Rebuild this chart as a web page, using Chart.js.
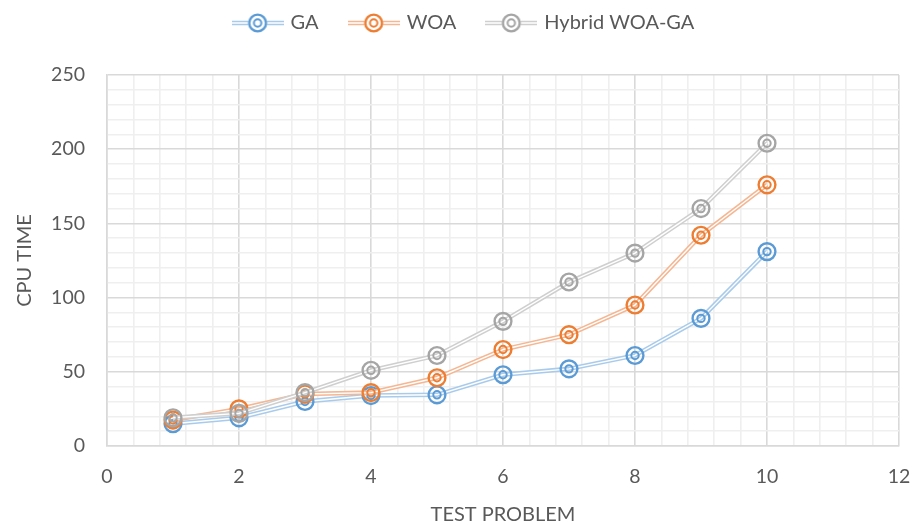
<!DOCTYPE html>
<html>
<head>
<meta charset="utf-8">
<script src="https://cdn.jsdelivr.net/npm/chart.js@4.4.1/dist/chart.umd.min.js"></script>
<style>
  html, body { margin: 0; padding: 0; background: #ffffff; }
  #wrap { width: 913px; height: 527px; position: relative; }
</style>
</head>
<body>
<div id="wrap"><canvas id="c" width="913" height="527"></canvas></div>
<script>
// ---- data ----
const testProblems = [1, 2, 3, 4, 5, 6, 7, 8, 9, 10];
const gaTime      = [15, 19, 30, 34, 34.5, 48, 52, 61, 86, 131];
const woaTime     = [17.5, 25, 35, 36, 46, 65, 75, 95, 142, 176];
const hybridTime  = [19, 22, 36, 51, 61, 84, 110.5, 130, 160, 204];
const seriesNames = ['GA', 'WOA', 'Hybrid WOA-GA'];
const xMajorTicks = [0, 2, 4, 6, 8, 10, 12];
const yMajorTicks = [0, 50, 100, 150, 200, 250];

const markerColors = ['#5B9BD5', '#ED7D31', '#A5A5A5'];
const lineColors   = ['#A9CBEB', '#F5B692', '#CFCFCF'];
const FONT = 'Lato, "Open Sans", "Liberation Sans", sans-serif';
const TXT = '#595959';

const LAYOUT_TOP = -19;
const PLOT_TOP = 75;

function pts(vals) { return testProblems.map((x, i) => ({ x: x, y: vals[i] })); }

function drawMarker(ctx, x, y, color) {
  ctx.save();
  ctx.strokeStyle = color;
  ctx.lineWidth = 2.4;
  ctx.beginPath(); ctx.arc(x, y, 8.4, 0, Math.PI * 2); ctx.stroke();
  ctx.lineWidth = 2;
  ctx.beginPath(); ctx.arc(x, y, 3.7, 0, Math.PI * 2); ctx.stroke();
  ctx.restore();
}

function legendImage(i) {
  const cv = document.createElement('canvas');
  cv.width = 52; cv.height = 22;
  const c = cv.getContext('2d');
  c.strokeStyle = lineColors[i]; c.lineWidth = 4.5;
  c.beginPath(); c.moveTo(0, 11); c.lineTo(52, 11); c.stroke();
  c.strokeStyle = '#ffffff'; c.lineWidth = 1.4;
  c.beginPath(); c.moveTo(0, 11); c.lineTo(52, 11); c.stroke();
  c.fillStyle = '#ffffff';
  c.beginPath(); c.arc(26, 11, 9.5, 0, Math.PI * 2); c.fill();
  drawMarker(c, 26, 11, markerColors[i]);
  return cv;
}

const doubleLinePlugin = {
  id: 'doubleLine',
  afterDatasetDraw(chart, args) {
    const ctx = chart.ctx;
    const meta = args.meta;
    const i = args.index;
    const area = chart.chartArea;
    ctx.save();
    ctx.beginPath();
    ctx.rect(area.left, area.top, area.right - area.left, area.bottom - area.top);
    ctx.clip();
    ctx.strokeStyle = '#ffffff';
    ctx.lineWidth = 1.4;
    ctx.lineJoin = 'round';
    ctx.beginPath();
    meta.data.forEach((p, k) => { if (k === 0) ctx.moveTo(p.x, p.y); else ctx.lineTo(p.x, p.y); });
    ctx.stroke();
    ctx.restore();
    meta.data.forEach(p => drawMarker(ctx, p.x, p.y, markerColors[i]));
  }
};

const legendHeightPlugin = {
  id: 'legendHeight',
  beforeInit(chart) {
    const legend = chart.legend;
    const origFit = legend.fit;
    legend.fit = function () {
      origFit.call(this);
      this.height = PLOT_TOP - LAYOUT_TOP;
    };
  }
};

const isMajor = (v, step) => Math.abs(v / step - Math.round(v / step)) < 1e-6;

const datasets = [gaTime, woaTime, hybridTime].map((vals, i) => ({
  label: seriesNames[i],
  data: pts(vals),
  borderColor: lineColors[i],
  backgroundColor: lineColors[i],
  borderWidth: 4.5,
  pointRadius: 0,
  pointHoverRadius: 0,
  showLine: true,
  tension: 0,
  order: 2 - i
}));

new Chart(document.getElementById('c'), {
  type: 'scatter',
  data: { datasets: datasets },
  plugins: [doubleLinePlugin, legendHeightPlugin],
  options: {
    responsive: false,
    animation: false,
    layout: { padding: { left: 0, right: -16, top: LAYOUT_TOP, bottom: 0 } },
    plugins: {
      tooltip: { enabled: false },
      legend: {
        position: 'top',
        labels: {
          usePointStyle: true,
          pointStyleWidth: 46,
          boxHeight: 20,
          padding: 32,
          color: TXT,
          font: { family: FONT, size: 20 },
          generateLabels(chart) {
            return chart.data.datasets.map((d, i) => ({
              text: d.label,
              fontColor: TXT,
              pointStyle: legendImage(i),
              datasetIndex: i,
              hidden: false,
              lineWidth: 0,
              strokeStyle: 'transparent',
              fillStyle: 'transparent'
            }));
          }
        }
      }
    },
    scales: {
      x: {
        type: 'linear',
        min: 0, max: 12,
        afterFit(scale) { scale.height = 81; scale.paddingRight = 14; scale.paddingLeft = 0; },
        border: { display: true, color: '#D9D9D9', width: 1.5 },
        grid: {
          drawTicks: false,
          color: c => isMajor(c.tick.value, 2) ? '#D9D9D9' : '#EFEFEF',
          lineWidth: 1.6
        },
        ticks: {
          stepSize: 0.4,
          autoSkip: false,
          maxRotation: 0,
          padding: 19,
          color: TXT,
          font: { family: FONT, size: 19.5 },
          callback: v => isMajor(v, 2) ? String(Math.round(v)) : ''
        },
        title: {
          display: true,
          text: 'TEST PROBLEM',
          color: TXT,
          font: { family: FONT, size: 20 },
          padding: { top: 0, bottom: 0 }
        }
      },
      y: {
        type: 'linear',
        min: 0, max: 250,
        afterFit(scale) { scale.width = 107; },
        border: { display: true, color: '#D9D9D9', width: 1.5 },
        grid: {
          drawTicks: false,
          color: c => isMajor(c.tick.value, 50) ? '#D9D9D9' : '#EFEFEF',
          lineWidth: 1.6
        },
        ticks: {
          stepSize: 10,
          autoSkip: false,
          padding: 22,
          color: TXT,
          font: { family: FONT, size: 19.5 },
          callback: v => isMajor(v, 50) ? String(Math.round(v)) : ''
        },
        title: {
          display: true,
          text: 'CPU TIME',
          color: TXT,
          font: { family: FONT, size: 20 },
          padding: { top: 13, bottom: 0 }
        }
      }
    }
  }
});
</script>
</body>
</html>
